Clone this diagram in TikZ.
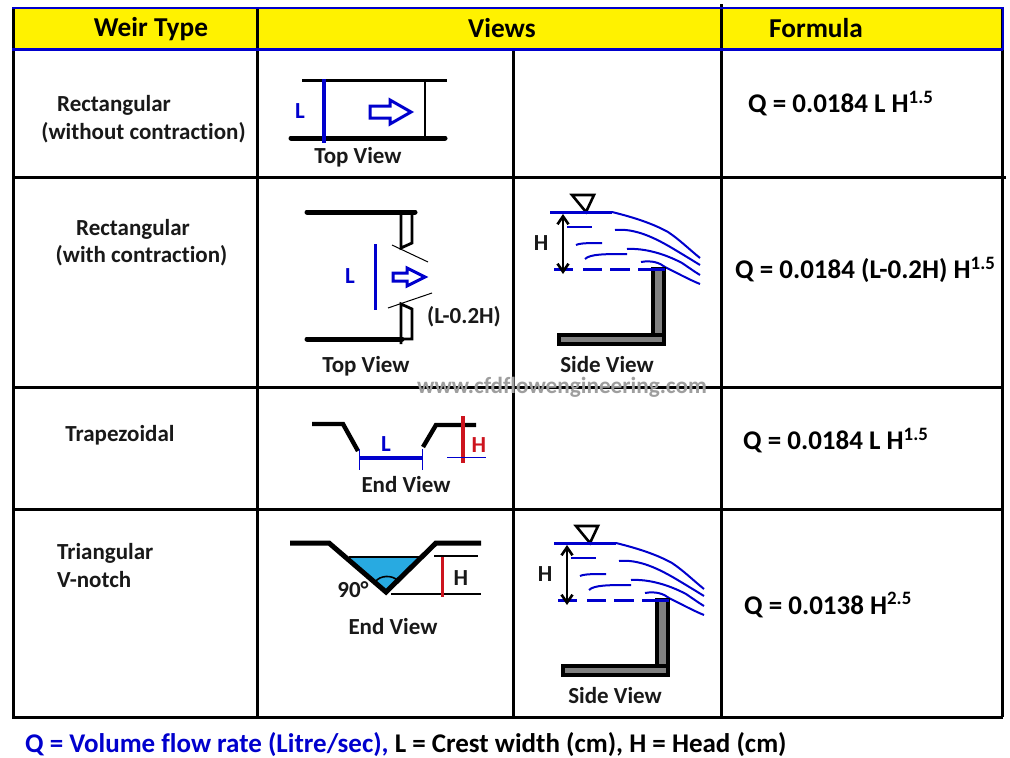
\documentclass[tikz,border=0pt]{standalone}
\usepackage{fontspec}
\setmainfont{Carlito}[BoldFont={Carlito Bold},Ligatures=NoCommon]
\usetikzlibrary{arrows.meta}
\definecolor{hdr}{RGB}{255,242,0}
\definecolor{wblue}{RGB}{0,0,205}
\definecolor{wred}{RGB}{205,20,30}
\definecolor{wcyan}{RGB}{40,170,225}
\tikzset{
 grid/.style={line width=3pt,black},
 txt/.style={font=\bfseries\fontsize{23}{25}\selectfont,inner sep=0pt,text=black!90,yshift=-1pt},
 head/.style={font=\bfseries\fontsize{27.3}{29}\selectfont,inner sep=0pt},
 frm/.style={font=\bfseries\fontsize{27}{29}\selectfont,inner sep=0pt,anchor=west},
 blu/.style={text=wblue},
 rd/.style={text=wred},
 thick1/.style={line width=5pt,black,line cap=round},
 flow/.style={wblue,line width=2pt},
 wallp/.style={draw=black,fill=black!50,line width=3.4pt},
 harrow/.style={black,line width=2.6pt,{Straight Barb[length=8pt,width=11pt]}-{Straight Barb[length=8pt,width=11pt]}},
}
\newcommand{\sideview}[2]{%
 \begin{scope}[shift={(#1,#2)}]
 \draw[black,line width=2.6pt] (572,195)--(594,195)--(586,212)--cycle;
 \draw[flow,line width=3pt] (550,212)--(612,212);
 \draw[flow] (612,212) .. controls (628,216) and (650,222) .. (668,232) .. controls (680,240) and (690,250) .. (700,258);
 \draw[flow] (615,230) .. controls (635,228) and (655,238) .. (672,248) .. controls (682,254) and (692,260) .. (700,265);
 \draw[flow] (627,249) .. controls (645,248) and (665,254) .. (682,263) .. controls (688,267) and (695,272) .. (700,275);
 \draw[flow] (641,262) .. controls (652,260) and (660,263) .. (665,267) .. controls (675,272) and (690,280) .. (700,284);
 \draw[flow] (567,227)--(592,227);
 \draw[flow] (576,245) .. controls (580,243) and (590,243) .. (602,243);
 \draw[flow] (585,259) .. controls (590,254) and (605,254) .. (627,254);
 \draw[wallp] (653,269) rectangle (664,344);
 \draw[wallp] (559,335) rectangle (664,344);
 \draw[wblue,line width=3pt,dash pattern=on 19pt off 10pt on 19pt off 8pt on 20pt off 8pt on 27pt] (554,269)--(665,269);
 \draw[harrow] (563,214)--(563,274);
 \end{scope}}
\begin{document}
\begin{tikzpicture}[x=1pt,y=-1pt]
\useasboundingbox (0,0) rectangle (1010,758);
\fill[white] (0,0) rectangle (1010,758);
% header
\fill[hdr] (12,8) rectangle (1003,50);
% grid
\draw[grid] (13,8)--(13,717) (257,8)--(257,717) (513,50)--(513,717) (721,4)--(721,717) (1002,8)--(1002,717);
\draw[grid] (12,177)--(1006,177) (12,387)--(1003,387) (12,509)--(1003,509) (12,717)--(1003,717);
\draw[wblue,line width=2.8pt] (12,8)--(1003,8)--(1003,50) (12,49.5)--(1003,49.5);
% headers
\node[head] (h1) at (151,29.5) {Weir Type};
\node[head] (h2) at (502,28.5) {Views};
\node[head] (h3) at (816,28.5) {Formula};
% row labels
\node[txt] (r1a) at (114,104) {Rectangular};
\node[txt] (r1b) at (143.5,131.5) {(without contraction)};
\node[txt] (r2a) at (133,228) {Rectangular};
\node[txt] (r2b) at (141.5,255) {(with contraction)};
\node[txt] (r3) at (120,434.5) {Trapezoidal};
\node[txt,anchor=west] (r4a) at (57,552) {Triangular};
\node[txt,anchor=west] (r4b) at (57,579) {V-notch};
% formulas
\node[frm] (f1) at (748,104) {Q = 0.0184 L H\textsuperscript{1.5}};
\node[frm] (f2) at (735,270) {Q = 0.0184 (L-0.2H) H\textsuperscript{1.5}};
\node[frm] (f3) at (743,441) {Q = 0.0184 L H\textsuperscript{1.5}};
\node[frm] (f4) at (744,605) {Q = 0.0138 H\textsuperscript{2.5}};
% row 1 top view
\draw[black,line width=3pt] (302,80)--(447,80);
\draw[black,line width=5pt,line cap=round] (291,138)--(445,138);
\draw[black,line width=2.6pt] (425,80)--(425,138);
\draw[wblue,line width=3.4pt] (324,79)--(324,143);
\node[txt,blu] (l1) at (300,110) {L};
\draw[wblue,line width=3pt] (370,106)--(390,106)--(390,100)--(411,112)--(390,124)--(390,118)--(370,118)--cycle;
\node[txt] (t1) at (358,156) {Top View};
% row 2 top view
\draw[thick1] (307,212)--(415,212);
\draw[thick1] (307,339)--(402,339);
\draw[black,line width=2.8pt] (401,212)--(401,248)--(412,243)--(412,212);
\draw[black,line width=2.8pt] (401,344)--(401,304)--(412,309)--(412,339)--(402,339);
\draw[black,line width=1pt] (392,245)--(428,262);
\draw[black,line width=1pt] (388,308)--(432,293);
\draw[wblue,line width=3pt] (375,244)--(375,310);
\node[txt,blu] (l2) at (350,275) {L};
\draw[wblue,line width=3pt] (393,273)--(407,273)--(407,268)--(425,277)--(407,286)--(407,281)--(393,281)--cycle;
\node[txt] (c2) at (464,315.5) {(L-0.2H)};
\node[txt] (t2) at (366,365.5) {Top View};
% side views
\sideview{0}{0}
\node[txt] (hs1) at (541,242) {H};
\node[txt] (s1) at (607,363.5) {Side View};
\sideview{4}{331}
\node[txt] (hs2) at (545,573) {H};
\node[txt] (s2) at (615,694.5) {Side View};
% trapezoidal
\draw[black,line width=4.4pt] (312,424)--(343,424)--(358,451);
\draw[black,line width=4.4pt] (423,447)--(436,425)--(476,425);
\draw[wblue,line width=3.4pt] (360,458)--(423,458);
\draw[wblue,line width=1pt] (359,449)--(359,470);
\draw[wblue,line width=1pt] (422,449)--(422,470);
\node[txt,blu] (l3) at (386,443) {L};
\draw[wred,line width=3.4pt] (463,416)--(463,463);
\draw[wblue,line width=1pt] (447,457)--(486,457);
\node[txt,rd] (h3r) at (479,444) {H};
\node[txt] (t3) at (406,484) {End View};
% triangular
\fill[wcyan] (349,557)--(420,557)--(386,592)--cycle;
\draw[black,line width=2.4pt] (349,557)--(420,557);
\draw[black,line width=5pt] (290,543)--(329,543)--(386,592)--(436,543)--(481,543);
\draw[black,line width=2.4pt] (434,556)--(478,556);
\draw[black,line width=2.4pt] (391,594)--(481,594);
\draw[wred,line width=3pt] (442,557)--(442,597);
\draw[black,line width=1.6pt] (375,582) .. controls (380,575) and (392,575) .. (397,580);
\node[txt] (h4) at (461,577) {H};
\node[txt] (a4) at (353,589) {90°};
\node[txt] (t4) at (393,625.5) {End View};
% watermark
\node[font=\bfseries\fontsize{23.2}{25}\selectfont,inner sep=0pt,text=black!38] (wm) at (562,387) {www.cfdflowengineering.com};
% legend
\node[anchor=west,font=\bfseries\fontsize{27}{29}\selectfont,inner sep=0pt] (lg) at (25,745) {\textcolor{wblue}{Q = Volume flow rate (Litre/sec),} L = Crest width (cm), H = Head (cm)};
\end{tikzpicture}
\end{document}
